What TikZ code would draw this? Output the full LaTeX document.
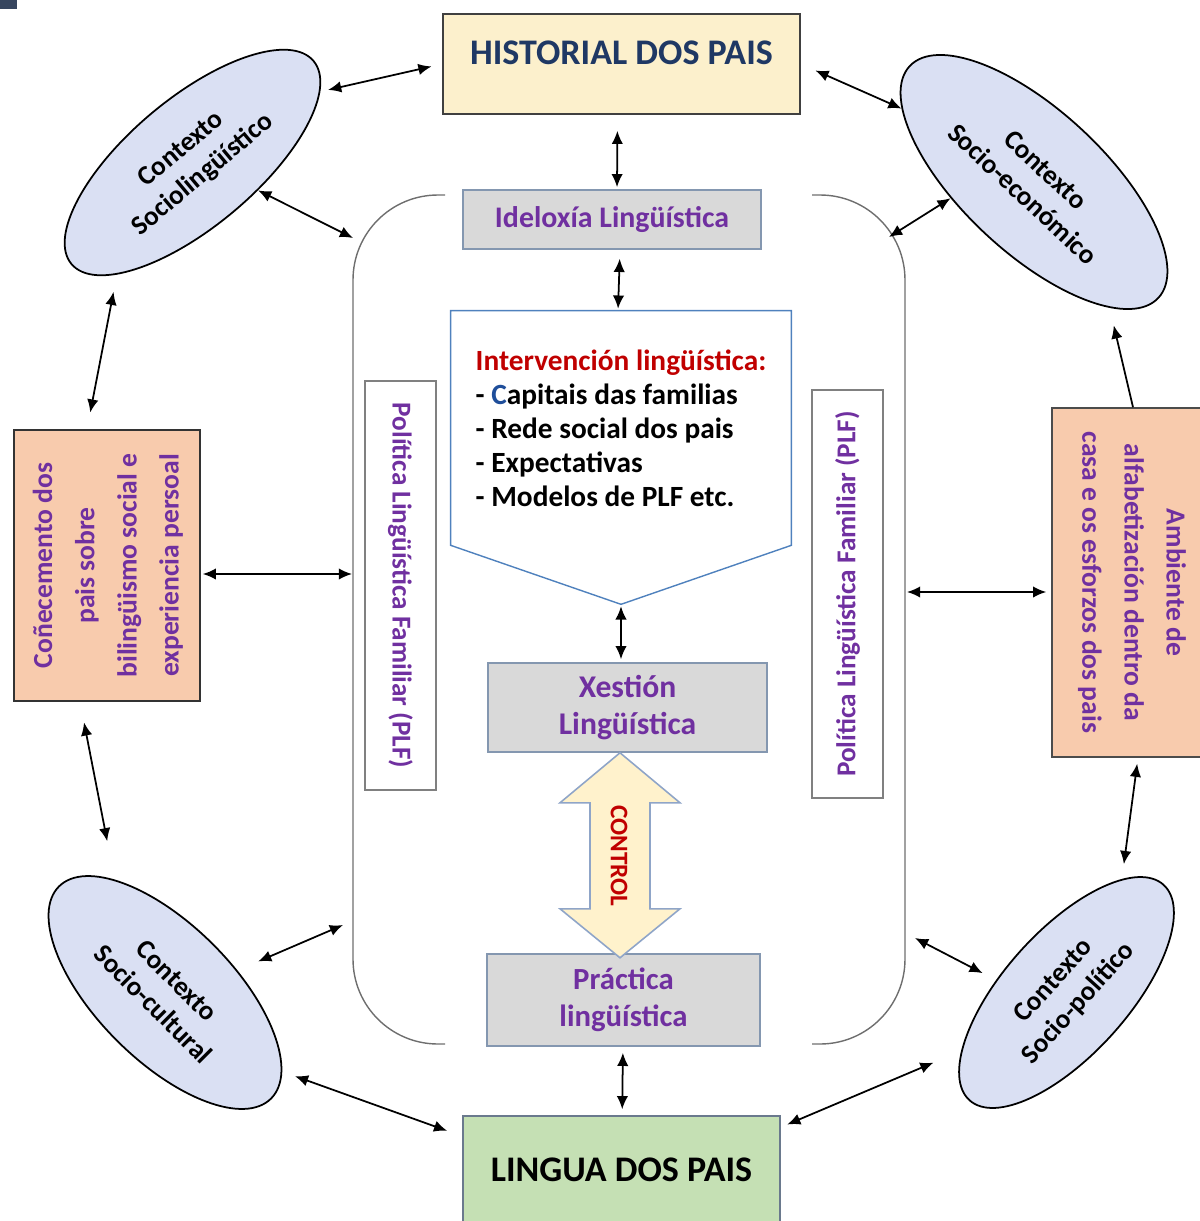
\documentclass[tikz,border=0pt]{standalone}
\usepackage{fontspec}
\setmainfont{Carlito}
\usepackage{graphicx}
\usetikzlibrary{arrows.meta, shapes.geometric, calc}

\definecolor{histfill}{RGB}{252,240,204}
\definecolor{histtext}{RGB}{31,56,100}
\definecolor{gryfill}{RGB}{217,217,217}
\definecolor{grydraw}{RGB}{132,151,176}
\definecolor{purp}{RGB}{112,48,160}
\definecolor{ivred}{RGB}{192,0,0}
\definecolor{ivblue}{RGB}{31,78,154}
\definecolor{ivline}{RGB}{79,129,189}
\definecolor{orng}{RGB}{248,203,173}
\definecolor{grn}{RGB}{197,224,180}
\definecolor{ctxfill}{RGB}{218,224,243}
\definecolor{ctlfill}{RGB}{255,242,204}
\definecolor{ctldraw}{RGB}{143,165,200}
\definecolor{brkgray}{RGB}{110,110,110}
\definecolor{plfdraw}{RGB}{128,128,128}
\definecolor{markblue}{RGB}{55,70,95}

\newcommand{\fsz}[2]{\fontsize{#1}{#2}\selectfont\bfseries}

\tikzset{
  box/.style={rectangle, draw, line width=0.9pt, inner sep=0pt, align=center},
  grybox/.style={box, fill=gryfill, draw=grydraw, text=purp, font=\fsz{17.5}{21}},
  orbox/.style={box, fill=orng, draw=black!80, text=purp, font=\fsz{15.7}{24}},
  plfbox/.style={box, fill=white, draw=plfdraw, line width=0.7pt, text=purp, font=\fsz{15.5}{18}},
  ctx/.style={ellipse, draw=black, line width=1pt, fill=ctxfill, inner sep=0pt, align=center, font=\fsz{15.5}{19}},
  dbl/.style={{Latex[length=7.5pt,width=6.5pt]}-{Latex[length=7.5pt,width=6.5pt]}, line width=1pt},
  one/.style={-{Latex[length=7.5pt,width=6.5pt]}, line width=1pt},
  brk/.style={draw=brkgray, line width=0.8pt, rounded corners=1.7cm}
}

\begin{document}
\begin{tikzpicture}[x=0.02cm, y=-0.02cm]
  \path[use as bounding box] (0,0) rectangle (1200,1221);
  \clip (0,0) rectangle (1200,1221);
  \fill[markblue] (0,0) rectangle (17,9);

  % bracket round the PLF
  \draw[brk] (445,195) -- (353,195) -- (353,1044) -- (445,1044);
  \draw[brk] (812,195) -- (905,195) -- (905,1044) -- (812,1044);
  \coordinate (brSL) at (353,238);
  \coordinate (brCo) at (352,574);
  \coordinate (brSC) at (343,925);
  \coordinate (brSE) at (889,237);
  \coordinate (brAm) at (907,592);
  \coordinate (brSP) at (915,938);

  % centre column
  \node[box, fill=histfill, draw=black!75, text=histtext, font=\fsz{20.5}{24}, text depth=12.5pt,
    minimum width=7.14cm, minimum height=2cm] (hist) at (621.5,64) {HISTORIAL DOS PAIS};
  \node[grybox, font=\fsz{17}{20}, minimum width=5.96cm, minimum height=1.18cm] (ideo) at (612,219.5) {Ideloxía Lingüística};
  \node[align=left, inner sep=0pt, font=\fsz{16.7}{19.3}, minimum width=6.8cm, minimum height=4.68cm] (interv) at (621,428)
    {{\color{ivred}Intervención lingüística:}\\- {\color{ivblue}C}apitais das familias\\- Rede social dos pais\\- Expectativas\\- Modelos de PLF etc.};
  \coordinate (ivtip) at ([yshift=-1.18cm]interv.south);
  \draw[ivline, line width=0.8pt] (interv.north west) -- (interv.north east) -- (interv.south east) -- (ivtip) -- (interv.south west) -- cycle;
  \node[grybox, font=\fsz{18}{20.8}, minimum width=5.58cm, minimum height=1.78cm] (xest) at (627.5,707.5) {Xestión\\Lingüística};
  \node[grybox, minimum width=5.46cm, minimum height=1.84cm] (prac) at (623.5,1000) {Práctica\\lingüística};
  \node[box, fill=grn, draw=grydraw!80!black, font=\fsz{20.5}{24}, minimum width=6.34cm, minimum height=2.16cm] (lingua) at (621.5,1170) {LINGUA DOS PAIS};

  % control
  \coordinate (ctTop) at ([xshift=-0.15cm]xest.south);
  \draw[fill=ctlfill, draw=ctldraw, line width=0.9pt] (ctTop) -- ++(60,50) -- ++(-30,0) -- ++(0,106) -- ++(30,0) -- ++(-60,49)
    -- ++(-60,-49) -- ++(30,0) -- ++(0,-106) -- ++(-30,0) -- cycle;
  \node[rotate=-90, text=ivred, font=\fsz{14.4}{16}] (ctl) at (619,856) {CONTROL};

  % PLF
  \node[plfbox, minimum width=1.42cm, minimum height=8.18cm] (plfL) at (400.5,585.5)
    {\rotatebox{-90}{Política Lingüística Familiar (PLF)}};
  \node[plfbox, minimum width=1.42cm, minimum height=8.16cm] (plfR) at (847.5,594)
    {\rotatebox{90}{Política Lingüística Familiar (PLF)}};

  % side boxes
  \node[orbox, minimum width=3.72cm, minimum height=5.42cm] (coL) at (107,565.5)
    {\rotatebox{90}{\begin{tabular}{@{}c@{}}Coñecemento dos\\pais sobre\\bilingüismo social e\\experiencia persoal\end{tabular}}};
  \node[orbox, draw=black!70, minimum width=3.24cm, minimum height=6.98cm] (ambR) at (1133,582.5)
    {\rotatebox{-90}{\begin{tabular}{@{}c@{}}Ambiente de\\alfabetización dentro da\\casa e os esforzos dos pais\end{tabular}}};

  % contexts
  \node[ctx, rotate=40, minimum width=6.32cm, minimum height=2.56cm] (ctxSL) at (192.5,162.5) {Contexto\\Sociolingüístico};
  \node[ctx, rotate=-43, minimum width=6.8cm, minimum height=2.84cm] (ctxSE) at (1034,182) {Contexto\\Socio-económico};
  \node[ctx, rotate=-45, minimum width=6cm, minimum height=2.72cm] (ctxSC) at (165,992.5) {Contexto\\Socio-cultural};
  \node[ctx, rotate=48, minimum width=5.8cm, minimum height=2.48cm] (ctxSP) at (1066.5,992.5) {Contexto\\Socio-político};

  % connectors
  \draw[dbl, shorten <=0.16cm, shorten >=0.22cm] (ctxSL.-11) -- (hist.west);
  \draw[dbl] (ctxSL.-63) -- (brSL);
  \draw[dbl, shorten <=0.35cm, shorten >=0.34cm] (ctxSL.-164) -- ([xshift=-0.4cm]coL.north);
  \draw[dbl, shorten <=0.42cm, shorten >=0.78cm] ([xshift=-0.54cm]coL.south) -- (ctxSC.159);
  \draw[dbl, shorten <=0.04cm] (coL.east |- brCo) -- (brCo);
  \draw[dbl, shorten <=0.45cm] (ctxSC.62) -- (brSC);
  \draw[dbl, shorten <=0.27cm, shorten >=0.32cm] (ctxSC.11) -- ([yshift=-0.42cm]lingua.north west);
  \draw[dbl, shorten <=0.12cm, shorten >=0.12cm] (prac) -- (lingua);
  \draw[dbl, shorten <=0.14cm, shorten >=0.6cm] ([yshift=-0.24cm]lingua.north east) -- (ctxSP.161);
  \draw[dbl, shorten <=0.3cm] (ctxSP.122) -- (brSP);
  \draw[dbl, shorten <=0.3cm, shorten >=0.12cm] (ctxSP.16) -- ([xshift=0.1cm]ambR.south);
  \draw[one, shorten >=0.36cm] (ambR.north) -- (ctxSE.-16);
  \draw[dbl, shorten >=0.1cm] (brAm) -- (brAm -| ambR.west);
  \draw[dbl] (ctxSE.-126) -- (brSE);
  \draw[dbl, shorten <=0.32cm] (hist.east) -- (ctxSE.-166);
  \draw[dbl, shorten <=0.32cm, shorten >=0.04cm] ([xshift=-0.08cm]hist.south) -- ([xshift=0.1cm]ideo.north);
  \draw[dbl, shorten <=0.18cm, shorten >=0.04cm] ([xshift=0.16cm]ideo.south) -- ([xshift=-0.06cm]interv.north);
  \draw[dbl, shorten <=0.04cm, shorten >=0.06cm] (ivtip) -- (ivtip |- xest.north);
\end{tikzpicture}
\end{document}
